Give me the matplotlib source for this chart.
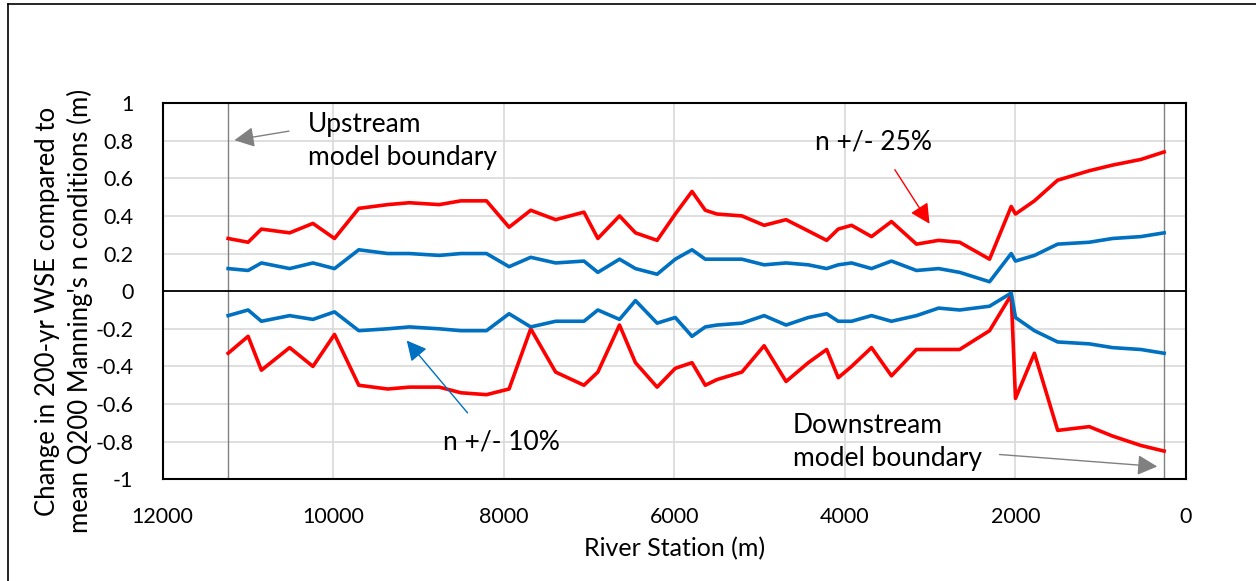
"""
Sensitivity of the 200-yr water surface elevation to Manning's n.

Draws the change in WSE (relative to the mean-n run) along the river for
n +/- 10 % and n +/- 25 %, with the model boundaries marked.
"""

import matplotlib
matplotlib.use("Agg")
import matplotlib.pyplot as plt
from matplotlib.lines import Line2D

# River station (m) of each cross-section, upstream -> downstream
station = [11232, 10998, 10842, 10511, 10238, 9985, 9700, 9360, 9108, 8757,
           8503, 8203, 7938, 7684, 7392, 7060, 6897, 6643, 6456, 6202,
           5989, 5793, 5637, 5501, 5208, 4947, 4690, 4429, 4214, 4078,
           3922, 3688, 3454, 3161, 2901, 2655, 2304, 2050, 2000, 1778,
           1505, 1135, 862, 530, 257]

# Change in WSE (m) for each scenario
n_plus_25 = [0.28, 0.26, 0.33, 0.31, 0.36, 0.28, 0.44, 0.46, 0.47, 0.46,
             0.48, 0.48, 0.34, 0.43, 0.38, 0.42, 0.28, 0.40, 0.31, 0.27,
             0.41, 0.53, 0.43, 0.41, 0.40, 0.35, 0.38, 0.32, 0.27, 0.33,
             0.35, 0.29, 0.37, 0.25, 0.27, 0.26, 0.17, 0.45, 0.41, 0.48,
             0.59, 0.64, 0.67, 0.70, 0.74]
n_plus_10 = [0.12, 0.11, 0.15, 0.12, 0.15, 0.12, 0.22, 0.20, 0.20, 0.19,
             0.20, 0.20, 0.13, 0.18, 0.15, 0.16, 0.10, 0.17, 0.12, 0.09,
             0.17, 0.22, 0.17, 0.17, 0.17, 0.14, 0.15, 0.14, 0.12, 0.14,
             0.15, 0.12, 0.16, 0.11, 0.12, 0.10, 0.05, 0.20, 0.16, 0.19,
             0.25, 0.26, 0.28, 0.29, 0.31]
n_minus_10 = [-0.13, -0.10, -0.16, -0.13, -0.15, -0.11, -0.21, -0.20, -0.19, -0.20,
              -0.21, -0.21, -0.12, -0.19, -0.16, -0.16, -0.10, -0.15, -0.05, -0.17,
              -0.14, -0.24, -0.19, -0.18, -0.17, -0.13, -0.18, -0.14, -0.12, -0.16,
              -0.16, -0.13, -0.16, -0.13, -0.09, -0.10, -0.08, -0.01, -0.14, -0.21,
              -0.27, -0.28, -0.30, -0.31, -0.33]
n_minus_25 = [-0.33, -0.24, -0.42, -0.30, -0.40, -0.23, -0.50, -0.52, -0.51, -0.51,
              -0.54, -0.55, -0.52, -0.20, -0.43, -0.50, -0.43, -0.18, -0.38, -0.51,
              -0.41, -0.38, -0.50, -0.47, -0.43, -0.29, -0.48, -0.38, -0.31, -0.46,
              -0.40, -0.30, -0.45, -0.31, -0.31, -0.31, -0.21, -0.02, -0.57, -0.33,
              -0.74, -0.72, -0.77, -0.82, -0.85]

x_ticks = [12000, 10000, 8000, 6000, 4000, 2000, 0]
y_ticks = [1, 0.8, 0.6, 0.4, 0.2, 0, -0.2, -0.4, -0.6, -0.8, -1]
y_tick_labels = ["1", "0.8", "0.6", "0.4", "0.2", "0",
                 "-0.2", "-0.4", "-0.6", "-0.8", "-1"]

RED = "#ff0000"
BLUE = "#0070c0"
GREY = "#808080"

plt.rcParams["font.family"] = ["Lato", "DejaVu Sans"]

W, H = 1256, 581
fig = plt.figure(figsize=(W / 100, H / 100), dpi=100)
ax = fig.add_axes([0.1295, 0.175, 0.8148, 0.6477])

# chart-area border (only top and left edges are inside the crop)
fig.add_artist(Line2D([8 / W, 1.0], [1 - 4 / H] * 2, color="black", lw=1.2))
fig.add_artist(Line2D([8 / W] * 2, [0.0, 1 - 4 / H], color="black", lw=1.2))

# grid
ax.set_axisbelow(True)
ax.grid(True, color="#d9d9d9", lw=1.2)

# model boundaries at the first / last cross-section
ax.axvline(station[0], color=GREY, lw=1.0, zorder=1.5)
ax.axvline(station[-1], color=GREY, lw=1.0, zorder=1.5)
ax.axhline(0, color="black", lw=1.3, zorder=1.6)

ax.plot(station, n_plus_25, color=RED, lw=2.6, zorder=3)
ax.plot(station, n_minus_25, color=RED, lw=2.6, zorder=3)
ax.plot(station, n_plus_10, color=BLUE, lw=2.6, zorder=3)
ax.plot(station, n_minus_10, color=BLUE, lw=2.6, zorder=3)

ax.set_xlim(12000, 0)
ax.set_ylim(-1, 1)
ax.set_xticks(x_ticks)
ax.set_xticklabels([str(t) for t in x_ticks])
ax.set_yticks(y_ticks)
ax.set_yticklabels(y_tick_labels)
ax.tick_params(length=0, labelsize=15.5, colors="black")
ax.tick_params(axis="x", pad=20)
ax.tick_params(axis="y", pad=21)
for sp in ax.spines.values():
    sp.set_color("black")
    sp.set_linewidth(1.5)

# axis titles placed on the figure so they sit where the original has them
fig.text((162.7 + 1186) / 2 / W, 1 - 549 / H, "River Station (m)",
         fontsize=18, ha="center", va="center")
fig.text(64 / W, 1 - 311 / H,
         "Change in 200-yr WSE compared to\nmean Q200 Manning's n conditions (m)",
         fontsize=18.5, rotation=90, ha="center", va="center",
         multialignment="center", linespacing=1.35)

# annotations
ann_font = 19
head = "-|>,head_length=0.55,head_width=0.28"
ax.annotate("", xy=(11191, 0.80), xytext=(10487, 0.853),
            arrowprops=dict(arrowstyle=head, color=GREY, lw=1.0, mutation_scale=22))
ax.text(10296, 0.80, "Upstream\nmodel boundary", fontsize=ann_font,
        ha="left", va="center", linespacing=1.4)

ax.annotate("", xy=(2990, 0.346), xytext=(3432, 0.658),
            arrowprops=dict(arrowstyle=head, color=RED, lw=1.0, mutation_scale=22))
ax.text(4351, 0.794, "n +/- 25%", fontsize=ann_font, ha="left", va="center")

ax.annotate("", xy=(9159, -0.251), xytext=(8404, -0.658),
            arrowprops=dict(arrowstyle=head, color=BLUE, lw=1.0, mutation_scale=22))
ax.text(8709, -0.80, "n +/- 10%", fontsize=ann_font, ha="left", va="center")

ax.annotate("", xy=(305, -0.933), xytext=(2220, -0.867),
            arrowprops=dict(arrowstyle=head, color=GREY, lw=1.0, mutation_scale=22))
ax.text(4612, -0.802, "Downstream\nmodel boundary", fontsize=ann_font,
        ha="left", va="center", linespacing=1.4)

fig.savefig("out.png", dpi=100)
